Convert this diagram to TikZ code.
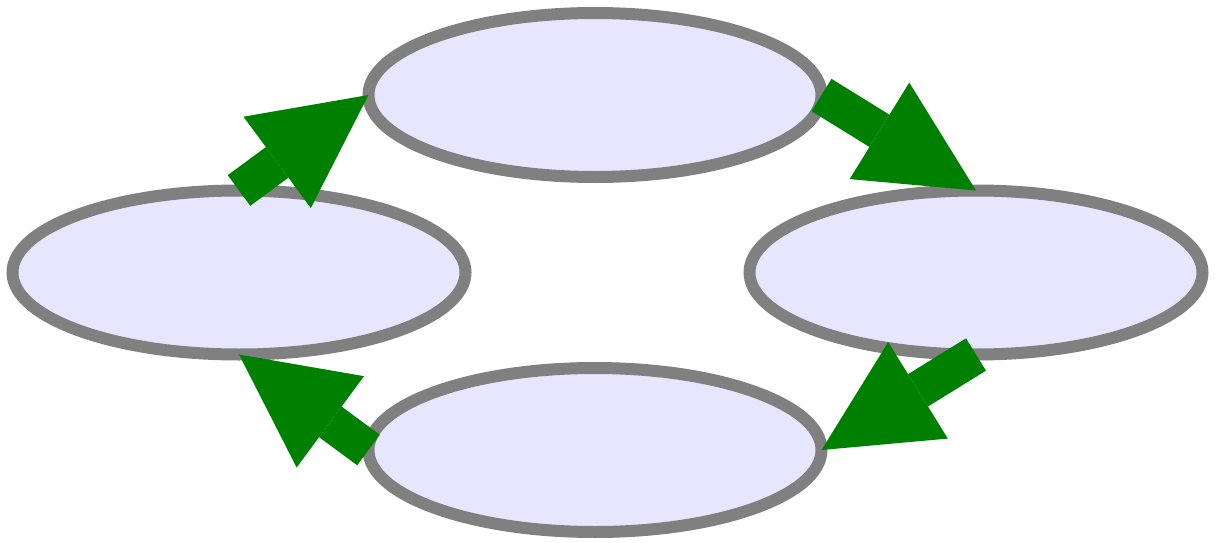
\documentclass[tikz,border=0pt]{standalone}
\usepackage{tikz}
\usetikzlibrary{arrows.meta,shapes.geometric}
\definecolor{stageFill}{RGB}{230, 230, 255}
\definecolor{stageLine}{RGB}{128, 128, 128}
\definecolor{flowGreen}{RGB}{0, 128, 0}
\tikzset{
  stage/.style={ellipse, draw=stageLine, fill=stageFill, line width=0.24cm,
    minimum width=9.06cm, minimum height=3.28cm, inner sep=0pt, outer sep=0pt},
  cyclearrow/.style={draw=flowGreen, line width=0.76cm,
    -{Triangle[length=2.27cm, width=2.27cm, line width=0pt, fill=flowGreen]}}
}
\begin{document}
\begin{tikzpicture}
        \useasboundingbox (0,0) rectangle (24.32,10.84);
        \node[stage] (top) at (11.9,8.94) {};
        \node[stage] (left) at (4.78,5.39) {};
        \node[stage] (right) at (19.52,5.39) {};
        \node[stage] (bottom) at (11.9,1.84) {};
        \draw[cyclearrow] (left.north) -- (top.west);
        \draw[cyclearrow] (top.east) -- (right.north);
        \draw[cyclearrow] (right.south) -- (bottom.east);
        \draw[cyclearrow] (bottom.west) -- (left.south);
      \end{tikzpicture}
\end{document}
